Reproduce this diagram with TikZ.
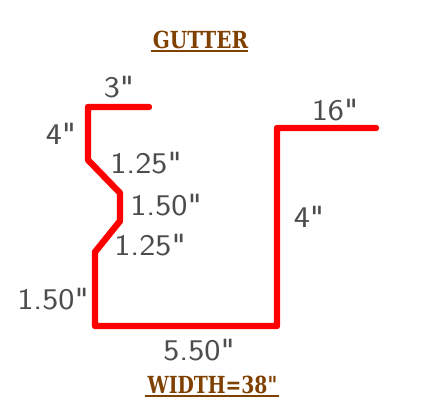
\documentclass[tikz,border=0pt]{standalone}
\usepackage{fontspec}
\setmainfont{DejaVu Serif}
\usepackage{graphicx}
\definecolor{gutterred}{RGB}{255,0,0}
\definecolor{titlebrown}{RGB}{128,64,0}
\tikzset{
  x=1pt,y=-1pt,
  dim/.style={inner sep=0pt,text=black!70,font=\sffamily\fontsize{30}{30}\selectfont},
  heading/.style={inner sep=0pt,text=titlebrown,font=\bfseries\fontsize{23.5}{24}\selectfont},
  rule/.style={draw=titlebrown,line width=2pt},
  profile/.style={draw=gutterred,line width=6.4pt,line join=round,line cap=round}
}
\newcommand{\dimtxt}[1]{\scalebox{1.14}[1]{#1\textquotedbl}}
\begin{document}
\begin{tikzpicture}
\useasboundingbox (0,0) rectangle (444,403);
\draw[profile] (149,107) -- (88,107) -- (88,160) -- (120,193) -- (120,221) -- (95,252) -- (95,326) -- (277,326) -- (277,128) -- (376,128);
\node[heading] (title) at (200.5,40) {\scalebox{0.85}[1]{GUTTER}};
\draw[rule] (151,51) -- (248,51);
\node[heading] (width) at (212.5,384.5) {\scalebox{0.8}[1]{WIDTH=38\textquotedbl}};
\draw[rule] (145,396) -- (279,396);
\node[dim] (a) at (119,87) {\dimtxt{3}};
\node[dim] (b) at (61,134) {\dimtxt{4}};
\node[dim] (c) at (146,163) {\dimtxt{1.25}};
\node[dim] (d) at (166,205) {\dimtxt{1.50}};
\node[dim] (e) at (150,245) {\dimtxt{1.25}};
\node[dim] (f) at (53,299) {\dimtxt{1.50}};
\node[dim] (g) at (199,350) {\dimtxt{5.50}};
\node[dim] (h) at (309,217) {\dimtxt{4}};
\node[dim] (i) at (335,110) {\dimtxt{16}};
\end{tikzpicture}
\end{document}
